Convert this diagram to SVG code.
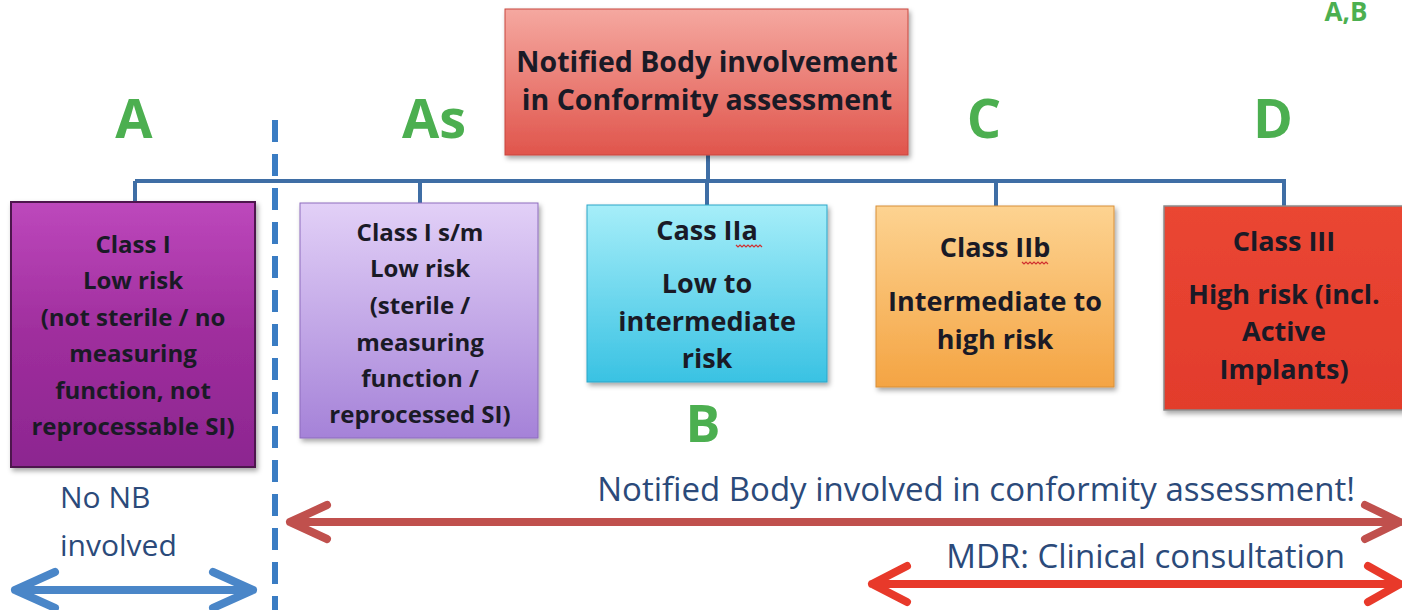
<svg xmlns="http://www.w3.org/2000/svg" width="1402" height="610" viewBox="0 0 1402 610">
<style>
.bt{font-family:"Open Sans","Liberation Sans",sans-serif;font-weight:bold;fill:#1a1a26;text-anchor:middle}
.lt{font-family:"Open Sans","Liberation Sans",sans-serif;font-weight:bold;fill:#4caf50;text-anchor:middle}
.nt{font-family:"Open Sans","Liberation Sans",sans-serif;fill:#2b4a7a}
.conn{stroke:#3f6ea5;stroke-width:4;fill:none}
.arr{fill:none;stroke-width:8;stroke-linecap:round;stroke-linejoin:round}
.sq{fill:none;stroke:#d03030;stroke-width:1.2}
</style>
<defs>
<filter id="sh" x="-10%" y="-10%" width="125%" height="125%">
<feDropShadow dx="2" dy="3" stdDeviation="2.5" flood-color="#000" flood-opacity="0.35"/>
</filter>
<linearGradient id="gTop" x1="0" y1="0" x2="0" y2="1"><stop offset="0" stop-color="#f5a8a0"/><stop offset="1" stop-color="#e0554c"/></linearGradient>
<linearGradient id="gI" x1="0" y1="0" x2="0" y2="1"><stop offset="0" stop-color="#bd48bc"/><stop offset="0.5" stop-color="#9f2e9d"/><stop offset="1" stop-color="#8c2690"/></linearGradient>
<linearGradient id="gIs" x1="0" y1="0" x2="0" y2="1"><stop offset="0" stop-color="#e2d0f7"/><stop offset="1" stop-color="#a582d8"/></linearGradient>
<linearGradient id="gIIa" x1="0" y1="0" x2="0" y2="1"><stop offset="0" stop-color="#a6eef9"/><stop offset="1" stop-color="#39c2e3"/></linearGradient>
<linearGradient id="gIIb" x1="0" y1="0" x2="0" y2="1"><stop offset="0" stop-color="#fdd391"/><stop offset="1" stop-color="#f4a443"/></linearGradient>
<linearGradient id="gIII" x1="0" y1="0" x2="0" y2="1"><stop offset="0" stop-color="#ea4632"/><stop offset="1" stop-color="#e23c2c"/></linearGradient>
</defs>
<rect width="1402" height="610" fill="#ffffff"/>

<g id="connectors">
<path class="conn" d="M708,155 V181 M135,181 H1286 M135,181 V202 M420,181 V203 M707,181 V205 M996,181 V206 M1284,181 V206"/>
<line x1="275" y1="120" x2="275" y2="610" stroke="#3a7cc3" stroke-width="6" stroke-dasharray="22,12"/>
<g id="arrow-noNB" stroke="#4a86c8" class="arr"><path d="M15,590 H253 M55,572 L15,590 L55,608 M213,572 L253,590 L213,608"/></g>
<g id="arrow-NB" stroke="#c0504d" class="arr"><path d="M290,522 H1400 M327,505 L290,522 L327,539 M1365,505 L1400,522 L1365,539"/></g>
<g id="arrow-MDR" stroke="#e8392a" class="arr"><path d="M872,584 H1400 M907,566 L872,584 L907,602 M1368,566 L1400,584 L1368,602"/></g>
</g>

<g id="top">
<rect x="505" y="9" width="403" height="146" fill="url(#gTop)" stroke="#c8463f" stroke-width="1" filter="url(#sh)"/>
<text class="bt" x="707" y="72" font-size="28.5">Notified Body involvement</text>
<text class="bt" x="707" y="110" font-size="28.5">in Conformity assessment</text>
</g>

<g id="classI">
<rect x="11" y="202" width="244" height="265" fill="url(#gI)" stroke="#4d154d" stroke-width="2" filter="url(#sh)"/>
<text class="bt" font-size="24"><tspan x="133" y="253">Class I</tspan><tspan x="133" y="289">Low risk</tspan><tspan x="133" y="326">(not sterile / no</tspan><tspan x="133" y="362">measuring</tspan><tspan x="133" y="399">function, not</tspan><tspan x="133" y="435">reprocessable SI)</tspan></text>
</g>

<g id="classIsm">
<rect x="300" y="203" width="238" height="235" fill="url(#gIs)" stroke="#8d6cbd" stroke-width="1" filter="url(#sh)"/>
<text class="bt" font-size="24"><tspan x="420" y="241">Class I s/m</tspan><tspan x="420" y="277">Low risk</tspan><tspan x="420" y="314">(sterile /</tspan><tspan x="420" y="351">measuring</tspan><tspan x="420" y="387">function /</tspan><tspan x="420" y="423">reprocessed SI)</tspan></text>
</g>

<g id="classIIa">
<rect x="587" y="205" width="240" height="177" fill="url(#gIIa)" stroke="#2aa5c8" stroke-width="1" filter="url(#sh)"/>
<text class="bt" font-size="27"><tspan x="707" y="240">Cass IIa</tspan><tspan x="707" y="293">Low to</tspan><tspan x="707" y="331">intermediate</tspan><tspan x="707" y="368">risk</tspan></text>
<path class="sq" d="M736,245 l2,2 l2,-2 l2,2 l2,-2 l2,2 l2,-2 l2,2 l2,-2 l2,2 l2,-2 l2,2 l2,-2 l2,2"/>
</g>

<g id="classIIb">
<rect x="876" y="206" width="238" height="181" fill="url(#gIIb)" stroke="#d8903a" stroke-width="1" filter="url(#sh)"/>
<text class="bt" font-size="27"><tspan x="995" y="257">Class IIb</tspan><tspan x="995" y="311">Intermediate to</tspan><tspan x="995" y="349">high risk</tspan></text>
<path class="sq" d="M1022,262 l2,2 l2,-2 l2,2 l2,-2 l2,2 l2,-2 l2,2 l2,-2 l2,2 l2,-2 l2,2 l2,-2 l2,2"/>
</g>

<g id="classIII">
<rect x="1164" y="206" width="240" height="204" fill="url(#gIII)" stroke="#8a8a8a" stroke-width="1.5" filter="url(#sh)"/>
<text class="bt" font-size="27"><tspan x="1284" y="251">Class III</tspan><tspan x="1284" y="304">High risk (incl.</tspan><tspan x="1284" y="341">Active</tspan><tspan x="1284" y="379">Implants)</tspan></text>
</g>

<g id="labels">
<text class="lt" x="134" y="138" font-size="54">A</text>
<text class="lt" x="434" y="138" font-size="54">As</text>
<text class="lt" x="984" y="138" font-size="54">C</text>
<text class="lt" x="1273" y="138" font-size="54">D</text>
<text class="lt" x="703" y="442" font-size="52">B</text>
<text class="lt" x="1346" y="21" font-size="26" text-anchor="start">A,B</text>
<text class="nt" x="60" y="508" font-size="30">No NB</text>
<text class="nt" x="60" y="556" font-size="30">involved</text>
<text class="nt" x="1355" y="501" font-size="33" text-anchor="end">Notified Body involved in conformity assessment!</text>
<text class="nt" x="1345" y="568" font-size="33" text-anchor="end">MDR: Clinical consultation</text>
</g>
</svg>
